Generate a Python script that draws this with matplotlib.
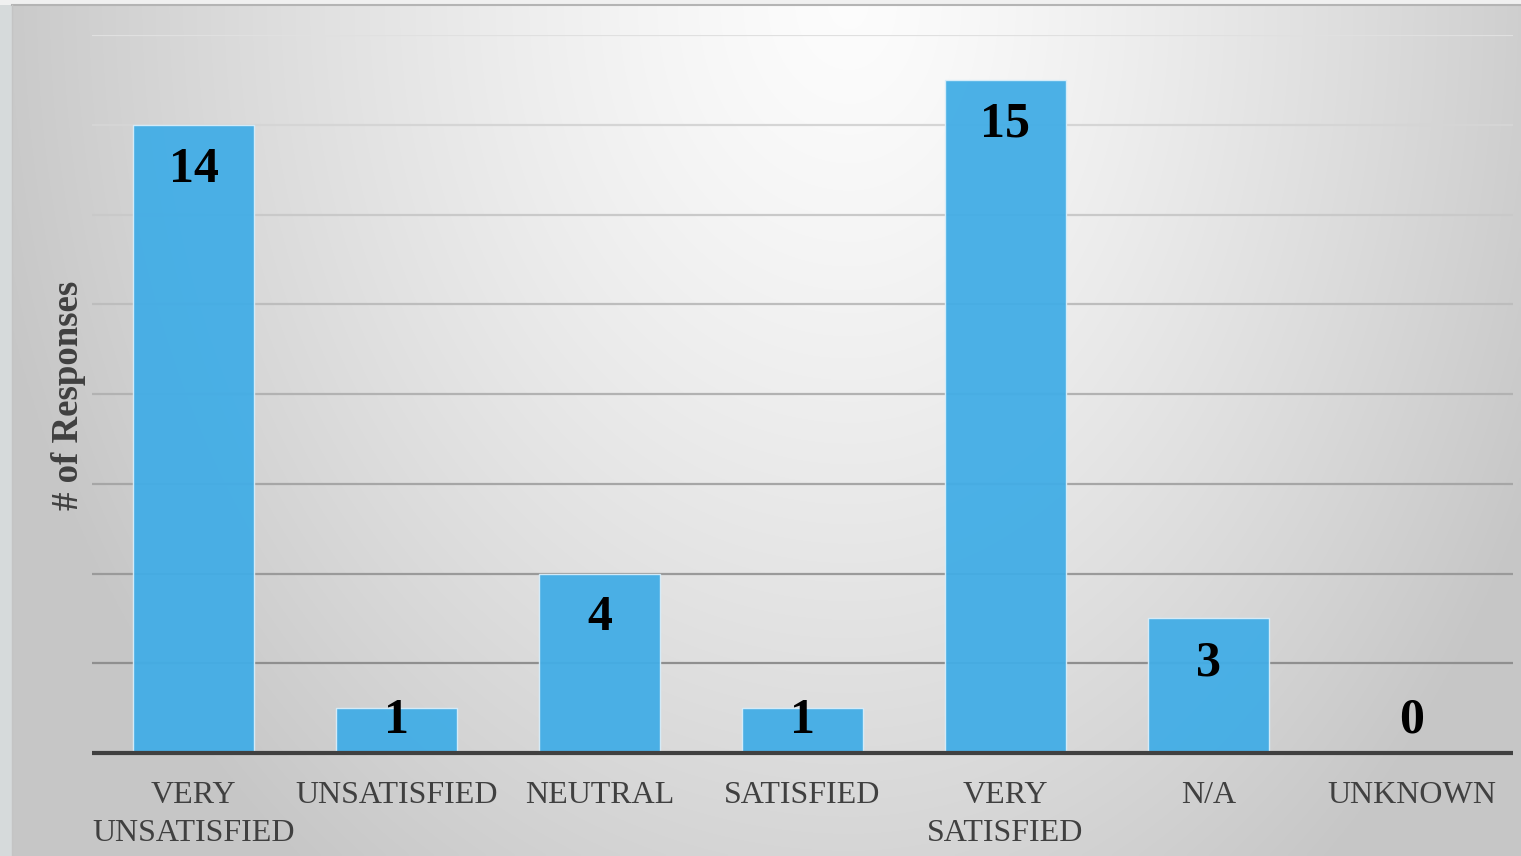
import numpy as np
import matplotlib
matplotlib.use("Agg")
import matplotlib.pyplot as plt
from matplotlib.patches import Rectangle

categories = ["VERY\nUNSATISFIED", "UNSATISFIED", "NEUTRAL", "SATISFIED",
              "VERY\nSATISFIED", "N/A", "UNKNOWN"]
responses = [14, 1, 4, 1, 15, 3, 0]
y_label = "# of Responses"
y_max = 16
grid_values = [2, 4, 6, 8, 10, 12, 14, 16]

W, H = 1521, 856
fig = plt.figure(figsize=(W / 100, H / 100), dpi=100)
fig.patch.set_facecolor("#d6dadb")

# top strip / frame
fig.patches.append(Rectangle((0, 1 - 5 / H), 1, 5 / H, transform=fig.transFigure,
                             facecolor="#f0f0f0", edgecolor="none", zorder=0))

# background gradient of the slide
bg = fig.add_axes([12 / W, 0, 1 - 12 / W, 1 - 5 / H], zorder=-1)
nx, ny = 400, 240
xs = np.linspace(12, W, nx)
ys = np.linspace(5, H, ny)
X, Y = np.meshgrid(xs, ys)
rx = np.where(X < 850, 880.0, 760.0)
r = np.sqrt(((X - 850) / rx) ** 2 + ((Y - 0) / 1100.0) ** 2)
val = 0.99 - 0.21 * np.clip(r, 0, 1.0) ** 1.3
bg.imshow(np.dstack([val, val, val]), aspect="auto", extent=(0, 1, 0, 1),
          interpolation="bilinear")
bg.set_axis_off()
fig.lines.append(plt.Line2D([12 / W, 1], [1 - 5 / H, 1 - 5 / H], transform=fig.transFigure,
                            color="#b4b4b4", lw=1.5))
fig.lines.append(plt.Line2D([12 / W, 12 / W], [0, 1 - 5 / H], transform=fig.transFigure,
                            color="#c4c4c4", lw=1.0))

ax = fig.add_axes([92 / W, 1 - 753 / H, (1513 - 92) / W, (753 - 35) / H])
ax.set_facecolor("none")
x = np.arange(len(categories))

# gridlines, darker toward the bottom
g_top, g_bot = 0.88, 0.56
for gv in grid_values:
    t = (gv - grid_values[0]) / (grid_values[-1] - grid_values[0])
    c = g_bot + (g_top - g_bot) * t
    ax.axhline(gv, color=(c, c, c), lw=1.6, zorder=1, solid_capstyle="butt")

ax.bar(x, responses, width=0.6, color="#42ade6", alpha=0.95,
       edgecolor="#d8eefa", linewidth=1.0, zorder=2)
ax.axhline(0, color="#404040", lw=3.0, zorder=3, clip_on=False, solid_capstyle="butt")

for xi, v in zip(x, responses):
    yb = max(v - 1.27, 0.45)
    ax.text(xi, yb, str(v), ha="center", va="baseline", fontsize=36,
            fontweight="bold", family="Liberation Serif", color="black", zorder=4)

ax.set_xlim(-0.5, len(categories) - 0.5)
ax.set_ylim(0, y_max)
ax.set_xticks(x)
ax.set_xticklabels(categories, fontsize=23, family="Liberation Serif",
                   color="#404040", linespacing=1.42, ha="center", multialignment="center")
ax.set_yticks([])
ax.tick_params(axis="x", length=0, pad=20)
for s in ax.spines.values():
    s.set_visible(False)

fig.text(68 / W, 1 - 395 / H, y_label, rotation=90, ha="center", va="center",
         fontsize=26.5, fontweight="bold", family="Liberation Serif", color="#404040")

fig.savefig("out.png", dpi=100)
